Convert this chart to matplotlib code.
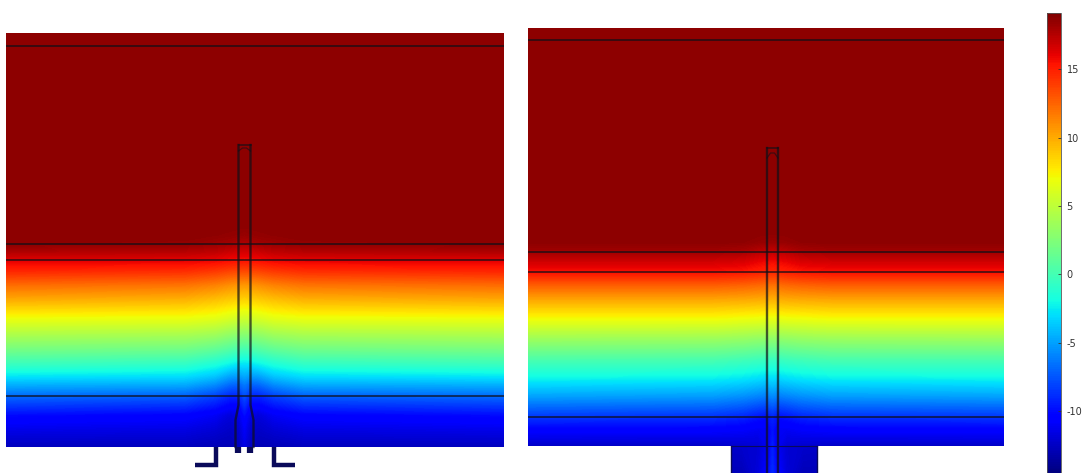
import numpy as np
import matplotlib
matplotlib.use('Agg')
import matplotlib.pyplot as plt

plt.rcParams['axes.unicode_minus'] = False

figW, figH = 1085, 473

# field samples, rows = picture height, columns = distance from the stem axis
leftRows = [33, 225, 235, 244, 252, 260, 270, 285, 300, 318, 335, 350, 365, 375, 385, 396, 415, 430, 447]
leftCols = [0, 6, 14, 30, 60, 265]
leftTemp = [
    [18.7, 18.7, 18.7, 18.7, 18.7, 18.7],
    [18.7, 18.7, 18.7, 18.7, 18.7, 18.7],
    [18.3, 18.4, 18.5, 18.6, 18.7, 18.7],
    [17.6, 17.7, 18.0, 18.2, 18.5, 18.6],
    [16.5, 16.6, 16.8, 17.2, 17.4, 17.6],
    [15.4, 15.5, 15.6, 15.9, 16.1, 16.2],
    [13.6, 13.7, 13.8, 14.2, 14.6, 14.9],
    [10.6, 10.7, 10.9, 11.4, 11.9, 12.2],
    [8.4, 8.5, 8.7, 9.1, 9.6, 9.9],
    [5.6, 5.7, 6.0, 6.5, 6.8, 6.9],
    [2.6, 2.7, 3.0, 3.6, 4.0, 4.2],
    [-0.2, 0.0, 0.4, 1.0, 1.6, 1.9],
    [-3.0, -3.0, -2.6, -1.8, -1.0, -0.6],
    [-4.6, -5.0, -4.8, -3.6, -2.8, -2.5],
    [-6.4, -7.2, -7.0, -5.8, -4.8, -4.6],
    [-7.8, -9.2, -9.2, -8.2, -7.2, -6.8],
    [-10.0, -11.6, -11.8, -11.0, -10.4, -10.0],
    [-11.0, -12.2, -12.4, -12.0, -11.6, -11.4],
    [-11.6, -12.6, -12.9, -12.9, -12.7, -12.7],
]

rightRows = [28, 232, 242, 252, 262, 272, 285, 300, 320, 340, 360, 378, 395, 417, 430, 446, 473]
rightCols = [0, 6, 14, 30, 60, 250]
rightTemp = [
    [18.7, 18.7, 18.7, 18.7, 18.7, 18.7],
    [18.7, 18.7, 18.7, 18.7, 18.7, 18.7],
    [18.2, 18.3, 18.4, 18.6, 18.7, 18.7],
    [17.0, 17.1, 17.3, 17.8, 18.0, 18.0],
    [15.6, 15.7, 15.9, 16.4, 16.6, 16.6],
    [14.6, 14.7, 14.9, 15.2, 15.4, 15.4],
    [12.0, 12.1, 12.3, 12.5, 12.7, 12.7],
    [9.6, 9.7, 9.8, 9.9, 10.0, 10.0],
    [6.4, 6.4, 6.5, 6.6, 6.8, 6.8],
    [2.8, 2.8, 2.9, 3.1, 3.3, 3.4],
    [-0.6, -0.6, -0.4, -0.2, 0.1, 0.2],
    [-3.0, -3.2, -3.0, -2.7, -2.4, -2.2],
    [-5.6, -6.0, -5.8, -5.4, -5.0, -4.8],
    [-9.2, -10.0, -9.8, -9.2, -8.8, -8.6],
    [-9.8, -11.0, -11.1, -10.8, -10.6, -10.5],
    [-9.4, -11.2, -12.0, -12.2, -12.4, -12.4],
    [-9.0, -10.6, -11.8, -12.8, -12.8, -12.8],
]

# horizontal layer boundaries
leftLayers = [46, 244, 260, 396]
rightLayers = [40, 252, 272, 417]

tempMin, tempMax = -14.5, 19.1
cbarTicks = [15, 10, 5, 0, -5, -10]


def add_axes_px(x0, y0, x1, y1):
    # axes box given in picture pixels, y counted from the top
    return fig.add_axes([x0 / figW, 1 - y1 / figH, (x1 - x0) / figW, (y1 - y0) / figH])


def draw_field(ax, rows, cols, temp, centre):
    cols = np.array(cols, dtype=float)
    xs = np.concatenate([centre - cols[::-1], centre + cols[1:]])
    temp = np.array(temp)
    tt = np.hstack([temp[:, ::-1], temp[:, 1:]])
    levels = np.linspace(tempMin, tempMax, 257)
    return ax.contourf(xs, rows, tt, levels=levels, cmap='jet', extend='both', antialiased=False)


fig = plt.figure(figsize=(figW / 100, figH / 100), dpi=100, facecolor='white')

# whole picture as one pixel-scaled axes for the two panels
ax = add_axes_px(0, 0, figW, figH)
ax.set_xlim(0, figW)
ax.set_ylim(figH, 0)
ax.axis('off')

lineCol = '#101018'
footCol = '#0a0a5a'

# left panel
leftCentre = 244.5
cs = draw_field(ax, leftRows, leftCols, leftTemp, leftCentre)
cs.set_clip_path(plt.Rectangle((6, 33), 498, 414, transform=ax.transData))
for yy in leftLayers:
    ax.plot([6, 504], [yy, yy], color=lineCol, lw=1.2, alpha=0.8, solid_capstyle='butt')
for sign in (-1, 1):
    ax.plot(leftCentre + sign * np.array([6, 6, 6, 9, 9]),
            [145, 150, 405, 420, 447], color=lineCol, lw=1.7, alpha=0.7)
ax.plot([leftCentre - 6, leftCentre + 6], [145, 145], color=lineCol, lw=1.1, alpha=0.75)
ax.plot([leftCentre - 6, leftCentre - 2, leftCentre + 2, leftCentre + 6], [151, 148, 148, 151],
        color=lineCol, lw=0.9, alpha=0.6)

# dark feet under the left panel
ax.plot([216, 216, 195], [447, 465, 465], color=footCol, lw=3.2, solid_joinstyle='miter', solid_capstyle='butt')
ax.plot([274, 274, 295], [447, 465, 465], color=footCol, lw=3.2, solid_joinstyle='miter', solid_capstyle='butt')
ax.plot([238, 238], [447, 453], color=footCol, lw=4.5, solid_capstyle='butt')
ax.plot([250, 250], [447, 453], color=footCol, lw=4.5, solid_capstyle='butt')

# right panel
rightCentre = 772.5
cs = draw_field(ax, rightRows, rightCols, rightTemp, rightCentre)
cs.set_clip_path(plt.Polygon([(528, 28), (1004, 28), (1004, 446), (817, 446), (817, 473),
                              (731, 473), (731, 446), (528, 446)], transform=ax.transData))
for yy in rightLayers:
    ax.plot([528, 1004], [yy, yy], color=lineCol, lw=1.2, alpha=0.8, solid_capstyle='butt')
for sign in (-1, 1):
    ax.plot([rightCentre + sign * 5.5] * 2, [148, 473], color=lineCol, lw=1.7, alpha=0.7)
ax.plot([rightCentre - 5.5, rightCentre + 5.5], [148, 148], color=lineCol, lw=1.1, alpha=0.75)
ax.plot([rightCentre - 5.5, rightCentre - 2, rightCentre + 2, rightCentre + 5.5], [158, 153, 153, 158],
        color=lineCol, lw=0.9, alpha=0.6)
ax.plot([731, 731], [446, 473], color=footCol, lw=1.0)
ax.plot([817, 817], [446, 473], color=footCol, lw=1.0)
ax.plot([731, 817], [446, 446], color=footCol, lw=0.8)

# colour bar, runs off the bottom edge like the source
cax = add_axes_px(1047, 13, 1061, 473)
sm = plt.cm.ScalarMappable(norm=plt.Normalize(tempMin, tempMax), cmap='jet')
cb = fig.colorbar(sm, cax=cax, ticks=cbarTicks)
cb.outline.set_linewidth(0.6)
cb.outline.set_edgecolor('#555555')
cax.tick_params(axis='y', direction='in', length=2, width=0.6, pad=4, labelsize=7,
                labelcolor='#333333', color='#333333')

plt.savefig('out.png', dpi=100)
plt.close()
